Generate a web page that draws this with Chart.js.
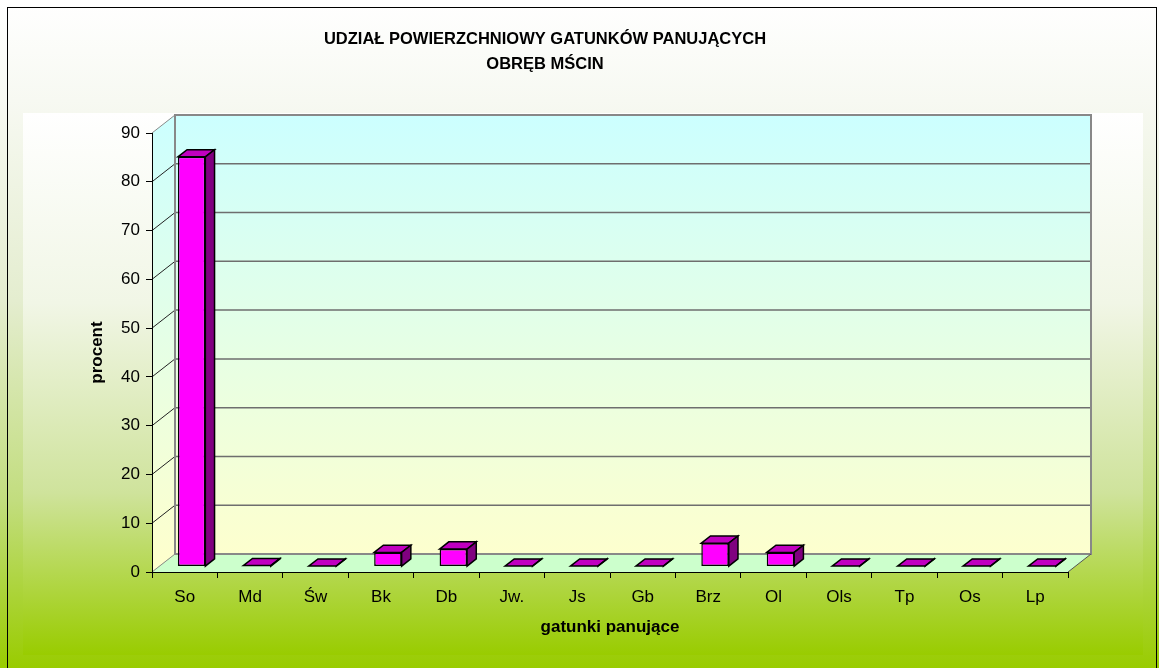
<!DOCTYPE html>
<html>
<head>
<meta charset="utf-8">
<script src="https://cdn.jsdelivr.net/npm/chart.js@4.4.1/dist/chart.umd.min.js"></script>
<style>
  html, body { margin: 0; padding: 0; }
  #wrap {
    position: relative; width: 1159px; height: 668px; overflow: hidden;
    background: linear-gradient(to bottom, #ffffff 0%, #f7f9f2 15%, #e4edcf 45%, #c2dd7e 75%, #99cc00 100%);
  }
  #frame {
    position: absolute; left: 7px; top: 7px; width: 1150px; height: 720px;
    border: 1px solid #000; box-sizing: border-box;
  }
  canvas { position: absolute; left: 0; top: 0; }
</style>
</head>
<body>
<div id="wrap">
  <div id="frame"></div>
  <canvas id="chart" width="1159" height="668"></canvas>
</div>
<script>
  /* ===================== DATA ===================== */

  let gatunki = ['So', 'Md', 'Św', 'Bk', 'Db', 'Jw.', 'Js', 'Gb', 'Brz', 'Ol', 'Ols', 'Tp', 'Os', 'Lp'];
  let procent = [84.0, 0.2, 0.1, 2.9, 3.6, 0.1, 0.1, 0.1, 4.8, 2.9, 0.1, 0.1, 0.1, 0.1];
  let tytul = ['UDZIAŁ POWIERZCHNIOWY GATUNKÓW PANUJĄCYCH', 'OBRĘB MŚCIN'];
  let osY = { min: 0, max: 90, step: 10 };

  /* ===================== 3D LOOK ===================== */

  const DX = 23, DY = -18;          // depth of the walls
  const BAR_FRONT = 0.3, BAR_DEPTH = 0.4;

  function poly(ctx, pts, fill, stroke, lw) {
    ctx.beginPath();
    pts.forEach(([x, y], i) => i ? ctx.lineTo(x, y) : ctx.moveTo(x, y));
    ctx.closePath();
    if (fill) { ctx.fillStyle = fill; ctx.fill(); }
    if (stroke) { ctx.strokeStyle = stroke; ctx.lineWidth = lw || 1; ctx.stroke(); }
  }

  function line(ctx, x1, y1, x2, y2, color, lw) {
    ctx.beginPath();
    ctx.moveTo(x1, y1);
    ctx.lineTo(x2, y2);
    ctx.strokeStyle = color;
    ctx.lineWidth = lw;
    ctx.stroke();
  }

  const walls3d = {
    id: 'walls3d',
    afterLayout(chart) {
      // title sits a bit left of the page centre in the original
      if (chart.titleBlock) {
        chart.titleBlock.left = 0;
        chart.titleBlock.right = 1090;
      }
    },
    beforeDraw(chart) {
      let { ctx, chartArea: a, scales: { y } } = chart;
      ctx.save();

      // plot-area panel
      let pg = ctx.createLinearGradient(0, 113, 0, 655);
      pg.addColorStop(0, '#ffffff');
      pg.addColorStop(0.35, '#f1f6e6');
      pg.addColorStop(0.7, '#cfe39c');
      pg.addColorStop(1, '#99cc00');
      ctx.fillStyle = pg;
      ctx.fillRect(23, 113, 1120, 542);

      // walls
      let wg = ctx.createLinearGradient(0, a.top + DY, 0, a.bottom);
      wg.addColorStop(0, '#ccffff');
      wg.addColorStop(1, '#ffffcc');
      ctx.fillStyle = wg;
      ctx.fillRect(a.left + DX, a.top + DY, a.width, a.height);
      poly(ctx, [[a.left, a.top], [a.left + DX, a.top + DY], [a.left + DX, a.bottom + DY], [a.left, a.bottom]], wg);

      // floor
      poly(ctx, [[a.left, a.bottom], [a.left + DX, a.bottom + DY], [a.right + DX, a.bottom + DY], [a.right, a.bottom]], '#ccffcc');

      // grid on back wall, diagonals on side wall
      y.ticks.forEach(t => {
        let py = y.getPixelForValue(t.value);
        let edge = t.value === osY.min || t.value === osY.max;
        line(ctx, a.left + DX, py + DY, a.right + DX, py + DY, '#6e6e6e', edge ? 2 : 1.5);
        line(ctx, a.left, py, a.left + DX, py + DY, edge ? '#8a8a8a' : '#222', 1);
      });

      ctx.strokeStyle = '#888';
      ctx.lineWidth = 2;
      ctx.strokeRect(a.left + DX, a.top + DY, a.width, a.height);
      line(ctx, a.right, a.bottom, a.right + DX, a.bottom + DY, '#555', 1);

      ctx.restore();
    },
    beforeDatasetsDraw(chart) {
      chart.ctx.save();
      chart.ctx.translate(DX * BAR_FRONT, DY * BAR_FRONT);
    },
    afterDatasetsDraw(chart) {
      let ctx = chart.ctx;
      ctx.restore();
      ctx.save();
      ctx.lineJoin = 'miter';
      let ox = DX * BAR_FRONT, oy = DY * BAR_FRONT;
      let bx = DX * BAR_DEPTH, by = DY * BAR_DEPTH;

      chart.getDatasetMeta(0).data.forEach(bar => {
        let { x, y, base, width } = bar.getProps(['x', 'y', 'base', 'width'], true);
        let l = x - width / 2 + ox, r = x + width / 2 + ox;
        let t = y + oy, b = base + oy;
        poly(ctx, [[l, t], [l + bx, t + by], [r + bx, t + by], [r, t]], '#c000c0', '#000', 1.5);
        poly(ctx, [[r, t], [r + bx, t + by], [r + bx, b + by], [r, b]], '#800080', '#000', 1.5);
      });

      ctx.restore();
    }
  };

  /* ===================== CHART ===================== */

  Chart.defaults.font.family = '"Liberation Sans", Arial, sans-serif';
  Chart.defaults.color = '#000';

  new Chart(document.getElementById('chart').getContext('2d'), {
    type: 'bar',
    data: {
      labels: gatunki,
      datasets: [{
        label: 'procent',
        data: procent,
        backgroundColor: '#ff00ff',
        borderColor: '#000',
        borderWidth: 1.5,
        borderSkipped: false,
        barPercentage: 0.42,
        categoryPercentage: 1
      }]
    },
    plugins: [walls3d],
    options: {
      responsive: false,
      animation: false,
      devicePixelRatio: 1,
      layout: { padding: { left: 87, right: 91, top: 0, bottom: 30 } },
      plugins: {
        legend: { display: false },
        tooltip: { enabled: false },
        title: {
          display: true,
          text: tytul,
          color: '#000',
          font: { size: 16.5, weight: 'bold', lineHeight: '25px' },
          padding: { top: 27, bottom: 56 }
        }
      },
      scales: {
        x: {
          grid: { drawOnChartArea: false, drawTicks: true, tickLength: 6, color: '#000', offset: true },
          border: { display: true, color: '#000', width: 1 },
          ticks: { font: { size: 17 }, padding: 9, color: '#000' },
          title: { display: true, text: 'gatunki panujące', font: { size: 17, weight: 'bold' }, padding: 0, color: '#000' },
          afterFit: s => { s.height = 66; }
        },
        y: {
          min: osY.min,
          max: osY.max,
          grid: { drawOnChartArea: false, drawTicks: true, tickLength: 6, color: '#000' },
          border: { display: true, color: '#000', width: 1 },
          ticks: { stepSize: osY.step, font: { size: 17 }, padding: 6, color: '#000' },
          title: { display: true, text: 'procent', font: { size: 17, weight: 'bold' }, padding: 0, color: '#000' },
          afterFit: s => { s.width = 65; }
        }
      }
    }
  });
</script>
</body>
</html>
